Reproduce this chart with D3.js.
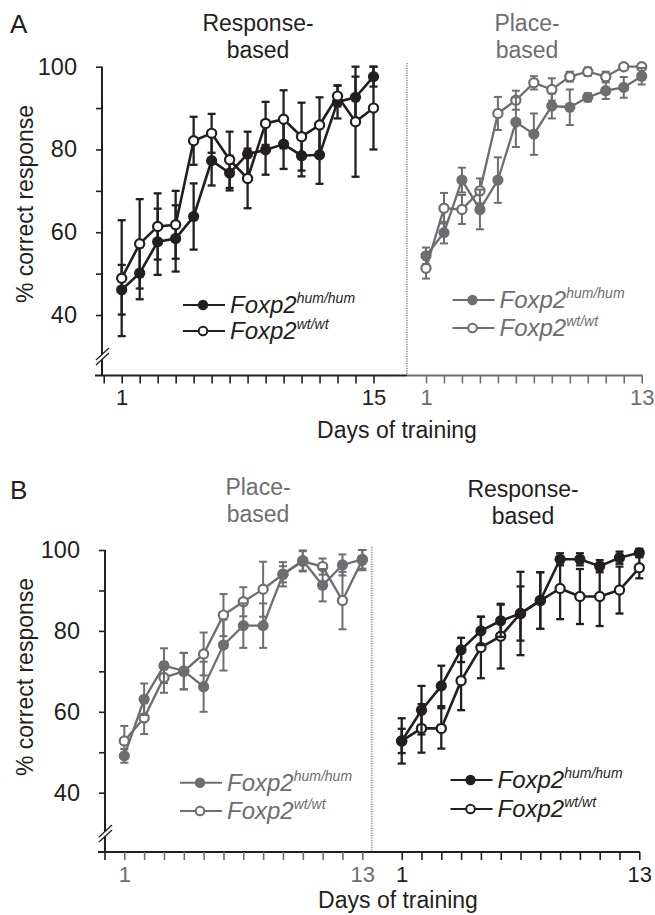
<!DOCTYPE html>
<html>
<head>
<meta charset="utf-8">
<script src="https://cdn.jsdelivr.net/npm/d3@7"></script>
<style>
  body { margin: 0; background: #fff; }
  text { font-family: "Liberation Sans", Arial, sans-serif; }
</style>
</head>
<body>
<script>
// Panel A – response-based (days 1-15)
const aRespHum    = [46.1, 50.1, 57.7, 58.5, 63.8, 77.3, 74.3, 78.9, 79.9, 81.3, 78.5, 78.7, 91.5, 92.6, 97.6];
const aRespHumErr = [6, 6.3, 8, 8, 8, 6, 4.2, 5.4, 6, 6, 5, 7, 4, 5, 2.4];
const aRespWt     = [48.9, 57.2, 61.4, 61.8, 82.1, 83.9, 77.5, 73.0, 86.3, 87.3, 83.1, 85.9, 92.9, 86.7, 90.0];
const aRespWtErr  = [14, 10.8, 8, 8.2, 5.8, 4.7, 6.8, 7.2, 5.2, 7, 8.2, 6.7, 2.5, 13.3, 10];
// Panel A – place-based (days 1-13)
const aPlaceHum    = [54.3, 59.9, 72.6, 65.5, 72.6, 86.6, 83.7, 90.5, 90.2, 92.6, 94.2, 95.0, 97.7];
const aPlaceHumErr = [2, 2.6, 3, 4.8, 5.5, 6, 5, 3, 4.3, 1, 2, 2.5, 2];
const aPlaceWt     = [51.3, 65.8, 65.5, 70.0, 88.7, 91.9, 96.1, 94.5, 97.6, 98.8, 97.6, 100, 100];
const aPlaceWtErr  = [2.5, 3.7, 3.5, 3, 4, 2.3, 1.6, 2.7, 1.2, 1, 1.2, 0.5, 0.5];
// Panel B – place-based (days 1-13)
const bPlaceHum    = [49.1, 63.1, 71.4, 70.1, 66.2, 76.5, 81.3, 81.3, 94.0, 97.4, 91.3, 96.3, 97.7];
const bPlaceHumErr = [1.7, 3.9, 4.3, 4.5, 6.2, 6.3, 5.5, 5.5, 3, 2.5, 4, 2.6, 2.3];
const bPlaceWt     = [52.8, 58.5, 68.5, 70.0, 74.3, 83.9, 87.2, 90.3, 94.0, 97.2, 95.9, 87.5, 97.5];
const bPlaceWtErr  = [3.7, 4, 3.8, 4.5, 5.3, 5.2, 3.6, 6.8, 2, 2.5, 2, 7.1, 2.5];
// Panel B – response-based (days 1-13)
const bRespHum    = [52.8, 60.4, 66.4, 75.3, 80.0, 82.5, 84.3, 87.5, 97.7, 97.7, 96.0, 98.1, 99.3];
const bRespHumErr = [3, 6, 5, 3, 3.5, 4, 10.3, 7, 1.5, 1.5, 1.5, 1.5, 1];
const bRespWt     = [52.8, 55.9, 55.9, 67.7, 75.9, 78.7, 84.3, 87.5, 90.5, 88.5, 88.5, 90.1, 95.6];
const bRespWtErr  = [5.6, 6, 5, 7.3, 7.6, 8, 6.7, 7, 7.6, 6.8, 7.3, 5.8, 2.6];

const yTicks = [40, 50, 60, 70, 80, 90, 100];
const yLabels = [40, 60, 80, 100];

const BLACK = "#231f20", GRAY = "#6d6e71", DOT = "#9a9a9a";

const svg = d3.select("body").append("svg").attr("width", 655).attr("height", 915);

function yAxis(y, x0, yBottom, brk) {
    const g = svg.append("g").attr("transform", `translate(${x0},0)`);
    g.call(d3.axisLeft(y).tickValues(yTicks).tickSize(6).tickSizeOuter(0)
        .tickFormat(d => yLabels.includes(d) ? d : ""));
    g.select(".domain").remove();
    g.selectAll(".tick line").attr("stroke", BLACK).attr("stroke-width", 1.6);
    g.selectAll(".tick text").attr("x", -25).attr("fill", BLACK).style("font-size", "23.5px").attr("font-family", null);
    g.append("line").attr("y1", y(100)).attr("y2", yBottom).attr("stroke", BLACK).attr("stroke-width", 2);
    // axis break
    g.append("path").attr("d", `M-6,${brk + 2}L7,${brk - 10}L7,${brk - 5}L-6,${brk + 7}Z`).attr("fill", "#fff");
    [0, 5].forEach(o => g.append("line").attr("x1", -6).attr("y1", brk + 2 + o).attr("x2", 7).attr("y2", brk - 10 + o)
        .attr("stroke", BLACK).attr("stroke-width", 1.3));
}

function xAxis(x, days, yAx, x1, x2, lineColor, tickColor, labels, labelColor) {
    svg.append("line").attr("x1", x1).attr("x2", x2).attr("y1", yAx).attr("y2", yAx)
        .attr("stroke", lineColor).attr("stroke-width", 2.2);
    const g = svg.append("g").attr("transform", `translate(0,${yAx})`);
    g.call(d3.axisBottom(x).tickValues(days).tickSize(8).tickSizeOuter(0)
        .tickFormat(d => labels.includes(d) ? d : ""));
    g.select(".domain").remove();
    g.selectAll(".tick line").attr("stroke", d => typeof tickColor === "function" ? tickColor(d) : tickColor).attr("stroke-width", 1.6);
    g.selectAll(".tick text").attr("y", 14).attr("fill", labelColor).style("font-size", "22px").attr("font-family", null);
}

function drawSeries(g, x, y, vals, errs, filled, color, lw) {
    const pts = vals.map((v, i) => ({ day: i + 1, v, e: errs[i] }));
    const s = g.append("g");
    s.selectAll(".err").data(pts).enter().append("line")
        .attr("x1", d => x(d.day)).attr("x2", d => x(d.day))
        .attr("y1", d => y(d.v - d.e)).attr("y2", d => y(d.v + d.e))
        .attr("stroke", color).attr("stroke-width", lw);
    [-1, 1].forEach(sg => s.selectAll(null).data(pts).enter().append("line")
        .attr("x1", d => x(d.day) - 4).attr("x2", d => x(d.day) + 4)
        .attr("y1", d => y(d.v + sg * d.e)).attr("y2", d => y(d.v + sg * d.e))
        .attr("stroke", color).attr("stroke-width", lw));
    s.append("path").datum(pts).attr("fill", "none").attr("stroke", color).attr("stroke-width", lw + 0.3)
        .attr("d", d3.line().x(d => x(d.day)).y(d => y(d.v)));
    s.selectAll("circle").data(pts).enter().append("circle")
        .attr("cx", d => x(d.day)).attr("cy", d => y(d.v)).attr("r", filled ? 5.6 : 4.6)
        .attr("fill", filled ? color : "#fff").attr("stroke", color).attr("stroke-width", filled ? 0 : 2.2);
}

function legend(x0, ys, color) {
    [["hum/hum", true], ["wt/wt", false]].forEach(([sup, filled], i) => {
        const g = svg.append("g").attr("transform", `translate(${x0},${ys[i]})`);
        g.append("line").attr("x1", 0).attr("x2", 42).attr("stroke", color).attr("stroke-width", 2);
        g.append("circle").attr("cx", 20).attr("r", filled ? 5.2 : 4.3)
            .attr("fill", filled ? color : "#fff").attr("stroke", color).attr("stroke-width", filled ? 0 : 2);
        const t = g.append("text").attr("x", 47).attr("y", 8).attr("fill", color)
            .style("font-style", "italic").style("font-size", "24px");
        t.append("tspan").text("Foxp2");
        t.append("tspan").attr("dy", -10).style("font-size", "14px").text(sup);
    });
}

function title(cx, y, lines, color) {
    lines.forEach((l, i) => svg.append("text").attr("x", cx).attr("y", y + i * 27)
        .attr("text-anchor", "middle").attr("fill", color).style("font-size", "23px").text(l));
}

// ---------- Panel A ----------
const yA = d3.scaleLinear().domain([40, 100]).range([315, 66.7]);
const xAL = d3.scaleLinear().domain([1, 15]).range([121.7, 373.5]);
const xAR = d3.scaleLinear().domain([1, 13]).range([426, 641.7]);
const axA = 375.5;

svg.append("line").attr("x1", 407).attr("x2", 407).attr("y1", 63).attr("y2", axA)
    .attr("stroke", DOT).attr("stroke-width", 1.8).attr("stroke-dasharray", "1.2,1.2");
xAxis(xAL, d3.range(0, 16), axA, 95, 407, BLACK, BLACK, [1, 15], BLACK);
xAxis(xAR, d3.range(1, 14), axA, 407, 642.5, GRAY, GRAY, [1, 13], GRAY);
yAxis(yA, 102, axA, 358);

const gA = svg.append("g");
drawSeries(gA, xAL, yA, aRespHum, aRespHumErr, true, BLACK, 2.3);
drawSeries(gA, xAL, yA, aRespWt, aRespWtErr, false, BLACK, 2.3);
drawSeries(gA, xAR, yA, aPlaceWt, aPlaceWtErr, false, GRAY, 2);
drawSeries(gA, xAR, yA, aPlaceHum, aPlaceHumErr, true, GRAY, 2);

legend(183, [305, 331], BLACK);
legend(452.5, [300, 328], GRAY);
title(258, 31, ["Response-", "based"], BLACK);
title(527, 31, ["Place-", "based"], GRAY);
svg.append("text").attr("x", 10).attr("y", 33).attr("fill", BLACK).style("font-size", "26px").text("A");
svg.append("text").attr("transform", "translate(33,204) rotate(-90)").attr("text-anchor", "middle")
    .attr("fill", BLACK).style("font-size", "23px").text("% correct response");
svg.append("text").attr("x", 397).attr("y", 438).attr("text-anchor", "middle")
    .attr("fill", BLACK).style("font-size", "23px").text("Days of training");

// ---------- Panel B ----------
const yB = d3.scaleLinear().domain([40, 100]).range([792.7, 550]);
const xBL = d3.scaleLinear().domain([1, 13]).range([124.3, 362.3]);
const xBR = d3.scaleLinear().domain([1, 13]).range([401.7, 639.3]);
const axB = 852;

svg.append("line").attr("x1", 371.7).attr("x2", 371.7).attr("y1", 547).attr("y2", axB)
    .attr("stroke", DOT).attr("stroke-width", 1.8).attr("stroke-dasharray", "1.2,1.2");
xAxis(xBL, d3.range(0, 14), axB, 98, 640, BLACK, d => d === 0 ? BLACK : GRAY, [1, 13], GRAY);
xAxis(xBR, d3.range(1, 14), axB, 380, 640, BLACK, BLACK, [1, 13], BLACK);
yAxis(yB, 105, axB, 835);

const gB = svg.append("g");
drawSeries(gB, xBL, yB, bPlaceWt, bPlaceWtErr, false, GRAY, 2);
drawSeries(gB, xBL, yB, bPlaceHum, bPlaceHumErr, true, GRAY, 2);
drawSeries(gB, xBR, yB, bRespWt, bRespWtErr, false, BLACK, 2.3);
drawSeries(gB, xBR, yB, bRespHum, bRespHumErr, true, BLACK, 2.3);

legend(180, [782.7, 811], GRAY);
legend(450.5, [780, 809], BLACK);
title(258, 495, ["Place-", "based"], GRAY);
title(523, 497, ["Response-", "based"], BLACK);
svg.append("text").attr("x", 10).attr("y", 499).attr("fill", BLACK).style("font-size", "26px").text("B");
svg.append("text").attr("transform", "translate(33,677) rotate(-90)").attr("text-anchor", "middle")
    .attr("fill", BLACK).style("font-size", "23px").text("% correct response");
svg.append("text").attr("x", 398).attr("y", 908).attr("text-anchor", "middle")
    .attr("fill", BLACK).style("font-size", "23px").text("Days of training");
</script>
</body>
</html>
